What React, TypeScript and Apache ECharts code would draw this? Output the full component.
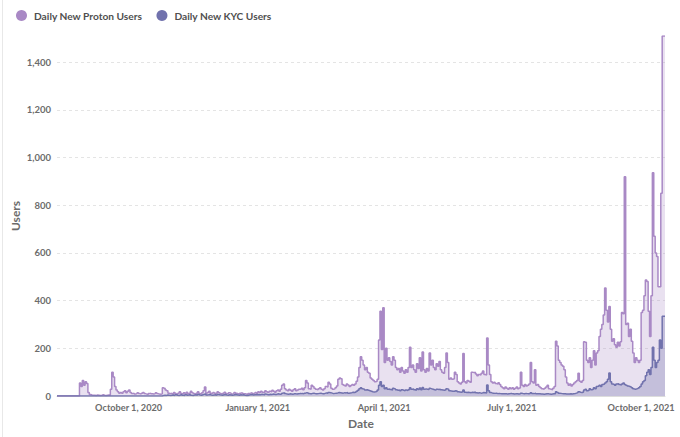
import React, { useEffect, useRef } from "react";
import * as echarts from "echarts";

// First day of data (daily series)
const START_DATE = "2020-08-11";

// Daily New Proton Users, by month
const P_AUG20 = [0,0,0,0,0,0,0,0,0,0,0,0,0,0,0,0,0,55,40,65,45];
const P_SEP20 = [60,52,15,6,4,3,3,2,4,3,2,3,5,3,2,3,4,3,28,100,80,40,25,18,12,15,12,18,22,14];
const P_OCT20 = [20,25,15,10,12,8,10,14,10,8,12,15,10,8,6,10,12,9,8,10,14,10,8,7,9,35,32,25,22,12,10];
const P_NOV20 = [12,8,15,10,6,12,18,10,8,14,10,16,8,12,20,14,10,8,12,18,10,8,14,22,38,12,15,20,12,10];
const P_DEC20 = [15,12,10,18,14,10,8,12,16,10,9,14,12,8,10,15,12,10,8,12,14,10,9,8,6,10,12,14,10,12,15];
const P_JAN21 = [12,18,15,20,16,14,22,18,15,20,18,24,20,16,22,25,20,28,45,50,30,25,22,28,24,20,26,30,22,25,28];
const P_FEB21 = [28,32,26,35,65,55,30,28,45,40,32,28,26,30,35,28,25,30,40,38,58,50,32,28,30,35,42,70];
const P_MAR21 = [75,72,48,45,42,50,46,40,44,48,45,50,62,80,120,165,150,130,110,120,100,95,75,70,65,60,62,70,235,355,195];
const P_APR21 = [370,140,200,150,160,145,130,165,150,120,110,115,100,120,105,95,110,100,120,205,120,130,110,100,135,115,160,105,185,110];
const P_MAY21 = [100,115,105,180,130,150,120,110,135,125,145,110,100,95,120,180,140,70,75,70,72,100,90,60,55,50,58,178,60,55,65];
const P_JUN21 = [62,58,100,98,100,92,85,90,88,95,105,90,88,243,130,90,60,55,58,52,50,56,48,40,35,30,38,32,28,35];
const P_JUL21 = [30,35,28,32,38,30,34,100,45,40,48,42,45,50,140,60,55,110,45,48,40,35,30,28,32,38,45,30,28,26,32];
const P_AUG21 = [40,230,210,150,140,130,125,110,80,55,45,50,42,48,55,60,65,95,62,58,65,228,225,150,140,160,120,150,190,130,180];
const P_SEP21 = [190,250,280,300,340,453,360,310,375,280,230,240,215,205,225,210,228,350,345,920,300,305,250,280,230,180,140,160,150,140];
const P_OCT21 = [150,350,360,420,487,480,355,250,420,936,670,600,585,458,458,850,1510,1510];

// Daily New KYC Users, by month
const K_AUG20 = [0,0,0,0,0,0,0,0,0,0,0,0,0,0,0,0,0,0,0,0,0];
const K_SEP20 = [0,0,0,0,0,0,0,0,0,0,0,0,0,0,0,0,0,0,0,0,0,0,0,0,0,0,0,0,0,0];
const K_OCT20 = [0,0,0,0,0,0,0,0,0,0,0,0,0,0,0,0,0,0,0,0,0,0,0,0,0,2,3,2,4,3,2];
const K_NOV20 = [3,4,2,5,3,2,4,6,3,2,5,3,4,6,3,2,4,5,3,6,4,3,5,7,8,4,5,6,4,3];
const K_DEC20 = [4,5,3,6,5,4,3,5,6,4,3,5,4,3,4,6,5,4,3,5,4,5,3,2,2,4,5,6,4,5,6];
const K_JAN21 = [5,6,5,7,6,5,8,6,5,7,6,8,7,6,8,9,7,8,12,14,10,8,7,9,8,7,9,10,8,9,10];
const K_FEB21 = [10,11,9,12,14,13,10,9,11,12,10,9,10,11,12,10,9,11,13,12,15,14,12,10,11,12,13,15];
const K_MAR21 = [14,13,12,14,13,15,12,13,14,16,15,17,20,24,30,35,30,28,25,26,24,22,20,18,17,18,20,25,45,60,40];
const K_APR21 = [45,30,35,28,30,27,25,32,30,26,24,25,22,26,24,22,25,23,26,35,28,30,26,24,30,27,34,26,36,28];
const K_MAY21 = [30,28,27,32,30,28,26,25,28,27,29,26,25,24,26,30,28,22,21,20,20,22,21,18,17,16,18,25,16,15,16];
const K_JUN21 = [15,14,16,15,17,14,13,14,12,13,15,14,13,46,22,15,13,12,11,12,10,11,10,9,10,9,10,8,9,10];
const K_JUL21 = [10,9,8,10,9,8,9,12,10,9,11,10,9,10,14,11,10,12,9,10,9,8,8,7,8,9,10,8,7,8,9];
const K_AUG21 = [9,18,15,12,11,10,9,9,8,8,8,9,8,9,10,12,14,18,16,15,17,25,28,22,24,30,26,28,35,30,40];
const K_SEP21 = [42,45,40,48,50,55,60,70,96,60,50,48,45,50,52,48,46,50,55,48,45,42,40,38,35,30,28,30,32,35];
const K_OCT21 = [40,50,60,65,85,100,110,90,120,205,150,120,140,150,235,200,335,335];

// X tick dates and their labels
const TICK_DATES = ["2020-10-01", "2021-01-01", "2021-04-01", "2021-07-01", "2021-10-01"];
const TICK_LABELS = ["October 1, 2020", "January 1, 2021", "April 1, 2021", "July 1, 2021", "October 1, 2021"];

const SERIES_NAMES = ["Daily New Proton Users", "Daily New KYC Users"];
const COLORS = ["#A989C5", "#7172AD"];

const PROTON = [
  ...P_AUG20, ...P_SEP20, ...P_OCT20, ...P_NOV20, ...P_DEC20, ...P_JAN21, ...P_FEB21,
  ...P_MAR21, ...P_APR21, ...P_MAY21, ...P_JUN21, ...P_JUL21, ...P_AUG21, ...P_SEP21, ...P_OCT21,
];
const KYC = [
  ...K_AUG20, ...K_SEP20, ...K_OCT20, ...K_NOV20, ...K_DEC20, ...K_JAN21, ...K_FEB21,
  ...K_MAR21, ...K_APR21, ...K_MAY21, ...K_JUN21, ...K_JUL21, ...K_AUG21, ...K_SEP21, ...K_OCT21,
];

function buildDates(start: string, n: number): string[] {
  const out: string[] = [];
  const d0 = new Date(start + "T00:00:00Z").getTime();
  for (let i = 0; i < n; i++) {
    out.push(new Date(d0 + i * 86400000).toISOString().slice(0, 10));
  }
  return out;
}

const DATES = buildDates(START_DATE, PROTON.length);

const FONT = "Lato, 'Noto Sans', sans-serif";
const AXIS_TEXT = "#6c6c6c";

export default function App() {
  const ref = useRef<HTMLDivElement>(null);
  useEffect(() => {
    document.body.style.margin = "0";
    if (!ref.current) return;
    const chart = echarts.init(ref.current, undefined, { renderer: "svg" });
    chart.setOption({
      animation: false,
      backgroundColor: "#ffffff",
      textStyle: { fontFamily: FONT },
      legend: {
        left: 8,
        top: 5,
        icon: "circle",
        itemWidth: 11,
        itemHeight: 11,
        itemGap: 14,
        textStyle: { fontFamily: FONT, fontSize: 10.2, fontWeight: "bold", color: "#4f4f4f", padding: [0, 0, 0, 2] },
        data: SERIES_NAMES,
      },
      grid: { left: 54, right: 15, top: 36, bottom: 41, outerBoundsMode: "none", containLabel: false },
      xAxis: {
        type: "category",
        data: DATES,
        boundaryGap: false,
        name: "Date",
        nameLocation: "middle",
        nameGap: 21,
        nameMoveOverlap: false,
        nameTextStyle: { fontFamily: FONT, fontSize: 12, fontWeight: "bold", color: AXIS_TEXT, verticalAlign: "top" },
        axisLine: { lineStyle: { color: "#dcdcdc" } },
        axisTick: { show: false },
        axisLabel: {
          fontFamily: FONT,
          fontSize: 9.2,
          fontWeight: "bold",
          color: AXIS_TEXT,
          margin: 7,
          interval: (_i: number, v: string) => TICK_DATES.indexOf(v) >= 0,
          formatter: (v: string) => {
            const k = TICK_DATES.indexOf(v);
            return k >= 0 ? TICK_LABELS[k] : "";
          },
        },
        splitLine: { show: false },
      },
      yAxis: {
        type: "value",
        min: 0,
        max: 1510,
        interval: 200,
        name: "Users",
        nameLocation: "middle",
        nameGap: 36,
        nameMoveOverlap: false,
        nameTextStyle: { fontFamily: FONT, fontSize: 12, fontWeight: "bold", color: AXIS_TEXT },
        axisLine: { show: false },
        axisTick: { show: false },
        axisLabel: {
          fontFamily: FONT,
          fontSize: 9.5,
          fontWeight: "bold",
          color: AXIS_TEXT,
          margin: 6,
          showMaxLabel: false,
          formatter: (v: number) => v.toLocaleString("en-US"),
        },
        splitLine: {
          show: true,
          showMaxLine: false,
          lineStyle: { color: "#e4e4e4", type: [3, 3] },
        },
      },
      series: [
        {
          name: SERIES_NAMES[0],
          type: "line",
          step: "start",
          data: PROTON,
          showSymbol: false,
          color: COLORS[0],
          lineStyle: { color: COLORS[0], width: 1.5 },
          areaStyle: { color: COLORS[0], opacity: 0.25 },
          z: 2,
        },
        {
          name: SERIES_NAMES[1],
          type: "line",
          step: "start",
          data: KYC,
          showSymbol: false,
          color: COLORS[1],
          lineStyle: { color: COLORS[1], width: 1.5 },
          areaStyle: { color: COLORS[1], opacity: 0.3 },
          z: 3,
        },
      ],
    });
    return () => chart.dispose();
  }, []);
  return (
    <div style={{ position: "absolute", left: 0, top: 0, width: 680, height: 437, background: "#fff" }}>
      <div style={{ position: "absolute", left: 2, top: 0, width: 1, height: 437, background: "#e8e8e8" }} />
      <div ref={ref} style={{ position: "absolute", left: 3, top: 0, width: 677, height: 437 }} />
    </div>
  );
}
